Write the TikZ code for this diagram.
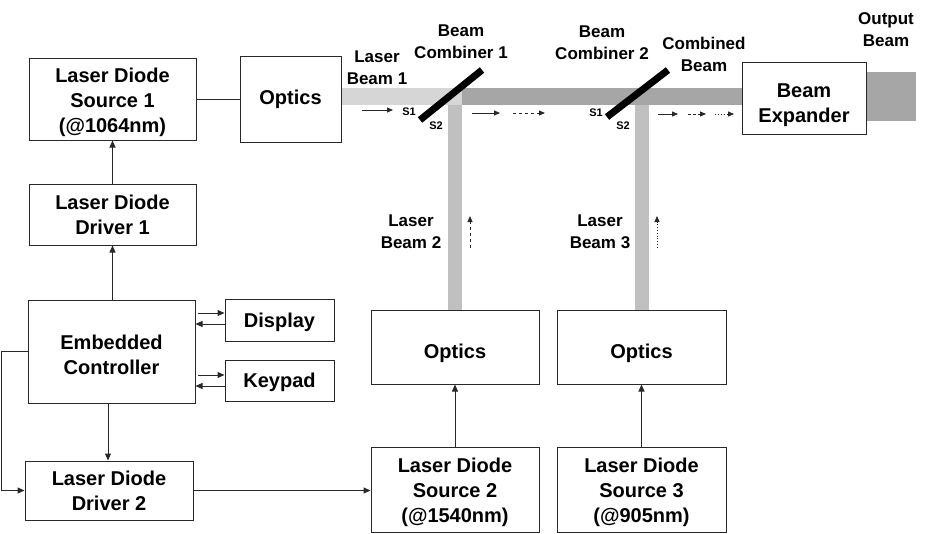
\documentclass[tikz,border=0pt]{standalone}
\usepackage{fontspec}
\setmainfont{Liberation Sans}
\usepackage{tikz}
\usetikzlibrary{arrows.meta,positioning,calc}
\definecolor{linegray}{RGB}{40,40,40}
\definecolor{beamone}{RGB}{214,214,214}
\definecolor{beamside}{RGB}{192,192,192}
\definecolor{beamsum}{RGB}{166,166,166}
\newcommand{\pushdown}[1]{\rule{0pt}{#1}}

\begin{document}
\begin{tikzpicture}[
    x=1pt, y=-1pt,
    box/.style={rectangle, draw=linegray, line width=1pt, inner sep=0pt,
                font=\fontsize{20}{25}\selectfont\bfseries, align=center},
    lbl/.style={inner sep=0pt, font=\fontsize{17}{22}\selectfont\bfseries, align=center},
    slbl/.style={inner sep=0pt, font=\fontsize{11}{13}\selectfont\bfseries},
    arrow/.style={-{Triangle[length=7pt,width=6pt]}, draw=linegray, line width=1pt},
    link/.style={draw=linegray, line width=1pt},
    small/.style={-{Triangle[length=6pt,width=5pt]}, draw=linegray, line width=0.9pt},
    mirror/.style={line width=7pt, line cap=butt, draw=black}
]
\useasboundingbox (0,0) rectangle (937,533);

% beams
\fill[beamone] (341,88) rectangle (462,105);
\fill[beamsum] (462,88) rectangle (742,105);
\fill[beamside] (448,105) rectangle (462,310);
\fill[beamside] (635,105) rectangle (649,310);
\fill[beamsum] (866,72) rectangle (916,121);

% blocks
\node[box, minimum width=167, minimum height=82] (lds1) at (112.5,99) {\pushdown{20.5pt}Laser Diode\\Source 1\\(@1064nm)};
\node[box, minimum width=101, minimum height=86] (opt1) at (290.5,99) {\pushdown{16pt}Optics};
\node[box, minimum width=167, minimum height=61] (ldd1) at (112.5,214.5) {Laser Diode\\Driver 1};
\node[box, minimum width=167, minimum height=103] (ctrl) at (111.5,351.5) {\pushdown{20.5pt}Embedded\\Controller};
\node[box, minimum width=109, minimum height=42] (disp) at (279.5,320) {\pushdown{18.5pt}Display};
\node[box, minimum width=109, minimum height=41] (keys) at (279.5,380.5) {\pushdown{18.5pt}Keypad};
\node[box, minimum width=168, minimum height=59] (ldd2) at (109,490.5) {Laser Diode\\Driver 2};
\node[box, minimum width=168, minimum height=74] (opt2) at (455,347) {\pushdown{27pt}Optics};
\node[box, minimum width=169, minimum height=74] (opt3) at (641.5,347) {\pushdown{27pt}Optics};
\node[box, minimum width=168, minimum height=85] (lds2) at (455,489.5) {\pushdown{19.5pt}Laser Diode\\Source 2\\(@1540nm)};
\node[box, minimum width=169, minimum height=85] (lds3) at (641.5,489.5) {\pushdown{19.5pt}Laser Diode\\Source 3\\(@905nm)};
\node[box, fill=white, minimum width=124, minimum height=72] (bexp) at (804,98) {\pushdown{29pt}Beam\\Expander};

% combiners
\draw[mirror] (420,120) -- (482,70);
\draw[mirror] (607,117) -- (668,70);

% labels
\node[lbl] (lb1) at (377,67.5) {Laser\\Beam 1};
\node[lbl] (bc1) at (461,42) {Beam\\Combiner 1};
\node[lbl] (bc2) at (602,42.5) {Beam\\Combiner 2};
\node[lbl] (cb) at (704,54) {Combined\\Beam};
\node[lbl] (ob) at (886,30) {Output\\Beam};
\node[lbl] (lb2) at (411,231.5) {Laser\\Beam 2};
\node[lbl] (lb3) at (600,231.5) {Laser\\Beam 3};
\node[slbl] (s11) at (409,112) {S1};
\node[slbl] (s12) at (436,126) {S2};
\node[slbl] (s21) at (596,113) {S1};
\node[slbl] (s22) at (623,126) {S2};

% beam direction marks
\draw[small] (362,110) -- (393,110);
\draw[small] (472,113) -- (500,113);
\draw[small, dashed] (513,113) -- (545,113);
\draw[small] (658,114) -- (678,114);
\draw[small, dash pattern=on 3pt off 2pt] (688,114) -- (706,114);
\draw[small, dotted] (715,114) -- (734,114);
\draw[small, dashed] (470,248) -- (470,216);
\draw[small, dotted] (657,248) -- (657,216);

% connections
\draw[link] (lds1) -- (opt1);
\draw[arrow] (ldd1) -- (lds1);
\draw[arrow] (ctrl.north -| ldd1.south) -- (ldd1);
\draw[arrow] ($(disp.west -| ctrl.east)+(2,-7)$) -- ($(disp.west)+(0,-7)$);
\draw[arrow] ($(disp.west)+(0,4)$) -- ($(disp.west -| ctrl.east)+(0,4)$);
\draw[arrow] ($(keys.west -| ctrl.east)+(2,-5.5)$) -- ($(keys.west)+(0,-5.5)$);
\draw[arrow] ($(keys.west)+(0,5.5)$) -- ($(keys.west -| ctrl.east)+(0,5.5)$);
\draw[arrow] (ctrl.south -| 108,0) -- (ldd2.north -| 108,0);
\draw[arrow] (ctrl.west) -- ++(-26,0) |- (ldd2.west);
\draw[arrow] (ldd2.east) -- (ldd2.east -| lds2.west);
\draw[arrow] (lds2) -- (opt2);
\draw[arrow] (lds3) -- (opt3);
\end{tikzpicture}
\end{document}
